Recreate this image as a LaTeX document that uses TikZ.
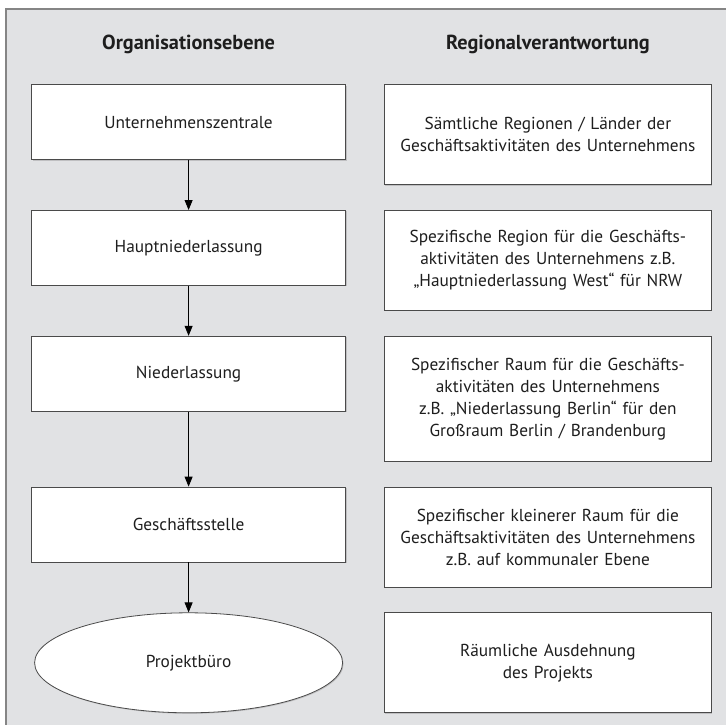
\documentclass[tikz,border=0pt]{standalone}
\usepackage{fontspec}
\setmainfont{PT Sans}
\usepackage{tikz}
\usetikzlibrary{matrix,positioning,shapes.geometric,arrows.meta,shadows}
\definecolor{panelgray}{HTML}{E1E2E4}
\definecolor{framegray}{HTML}{858585}
\definecolor{boxline}{HTML}{4A4A4A}
\definecolor{ink}{HTML}{1E1E1E}
\tikzset{
  lbox/.style={draw=boxline, fill=white, line width=0.8pt, text=ink,
    minimum width=314pt, minimum height=75pt, inner sep=0pt,
    drop shadow={shadow xshift=1pt, shadow yshift=-1pt, opacity=0.35}},
  rbox/.style={draw=boxline, fill=white, line width=0.8pt, text=ink,
    minimum width=327pt, minimum height=100pt, inner sep=0pt,
    text width=322pt, align=center,
    drop shadow={shadow xshift=1pt, shadow yshift=-1pt, opacity=0.35}},
  hdr/.style={font=\bfseries\fontsize{20.3}{24}\selectfont, text=ink, inner sep=0pt},
  arr/.style={-{Triangle[length=10pt,width=8pt]}, line width=0.8pt, black}
}
\begin{document}
\begin{tikzpicture}[font=\fontsize{17.3}{22}\selectfont]
  \useasboundingbox (0,0) rectangle (726pt,-725pt);
  \clip (0,0) rectangle (726pt,-725pt);
  \draw[framegray, fill=panelgray, line width=1.5pt] (6pt,-9pt) rectangle (760pt,-760pt);
  \matrix[matrix of nodes,
    anchor=north west, inner sep=0pt,
    nodes={anchor=north},
    row sep=25pt,
    column sep=38pt,
    column 1/.style={nodes={lbox}},
    column 2/.style={nodes={rbox}}] at (31pt,-84pt) {
    |(zentrale)| Unternehmenszentrale &
      |(rzentrale)| Sämtliche Regionen / Länder der\par Geschäftsaktivitäten des Unternehmens\\
    |(haupt)| Hauptniederlassung &
      |(rhaupt)| Spezifische Region für die Geschäfts-\par aktivitäten des Unternehmens z.B.\par „Hauptniederlassung West“ für NRW\\
    |(nieder)| Niederlassung &
      |[minimum height=125pt](rnieder)| Spezifischer Raum für die Geschäfts-\par aktivitäten des Unternehmens\par z.B. „Niederlassung Berlin“ für den\par Großraum Berlin / Brandenburg\\
    |(stelle)| Geschäftsstelle &
      |(rstelle)| Spezifischer kleinerer Raum für die\par Geschäftsaktivitäten des Unternehmens\par z.B. auf kommunaler Ebene\\
    |[ellipse, minimum width=308pt, minimum height=100pt](buero)| Projektbüro &
      |(rbuero)| Räumliche Ausdehnung\par des Projekts\\
  };
  \node[hdr, above=30pt of zentrale] (horg) {Organisationsebene};
  \node[hdr, above=30pt of rzentrale] (hreg) {Regionalverantwortung};
  \foreach \a/\b in {zentrale/haupt,haupt/nieder,nieder/stelle,stelle/buero}{
    \draw[arr] (\a) -- (\b);
  }
\end{tikzpicture}
\end{document}
